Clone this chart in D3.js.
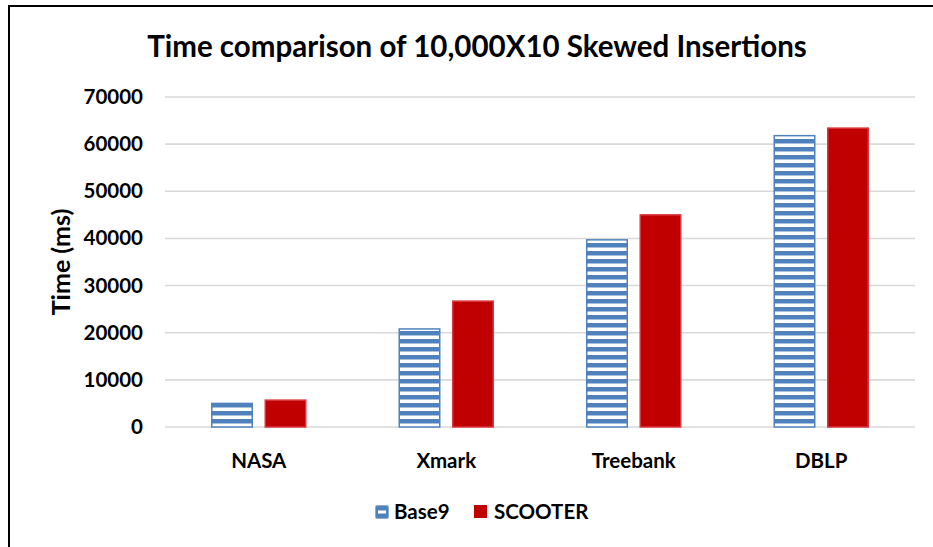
<!DOCTYPE html>
<html><head><meta charset="utf-8">
<script src="https://cdn.jsdelivr.net/npm/d3@7"></script>
<style>body{margin:0;background:#fff;} svg{display:block;font-family:Lato, "Open Sans", sans-serif;}</style>
</head><body>
<script>
const categories = ["NASA", "Xmark", "Treebank", "DBLP"];
const seriesNames = ["Base9", "SCOOTER"];
const base9 = [5000, 20800, 39700, 61800];
const scooter = [5700, 26700, 45000, 63400];
const yTicks = [0, 10000, 20000, 30000, 40000, 50000, 60000, 70000];
const colors = {Base9: "#4f81bd", SCOOTER: "#c00000"};

const W = 933, H = 547;
const svg = d3.select("body").append("svg").attr("width", W).attr("height", H);

const defs = svg.append("defs");
const pat = defs.append("pattern").attr("id", "stripes").attr("patternUnits", "userSpaceOnUse")
  .attr("width", 10).attr("height", 8).attr("y", 427);
pat.append("rect").attr("width", 10).attr("height", 8).attr("fill", "#fff");
pat.append("rect").attr("y", 0).attr("width", 10).attr("height", 4.5).attr("fill", colors.Base9);

// outer border
svg.append("path").attr("d", `M9,${H} L9,6 L${W},6`).attr("fill", "none").attr("stroke", "#000").attr("stroke-width", 2);

const m = {left: 165, right: 915, top: 97, bottom: 427};
const x = d3.scaleBand().domain(categories).range([m.left, m.right]);
const xs = d3.scaleBand().domain(seriesNames).range([0, x.bandwidth()]).paddingInner(0.215).paddingOuter(0.86);
const y = d3.scaleLinear().domain([0, 70000]).range([m.bottom, m.top]);

// grid
svg.append("g").selectAll("line").data(yTicks).join("line")
  .attr("x1", m.left).attr("x2", m.right)
  .attr("y1", d => y(d)).attr("y2", d => y(d))
  .attr("stroke", "#d9d9d9").attr("stroke-width", 1.6);

const yAxis = d3.axisLeft(y).tickValues(yTicks).tickSize(0).tickPadding(0).tickFormat(d3.format("d"));
const gy = svg.append("g").attr("transform", `translate(143,0)`).call(yAxis);
gy.select(".domain").remove();
gy.selectAll("text").attr("font-size", 20.5).attr("font-weight", "bold").attr("fill", "#000")
  .attr("font-family", "Lato, sans-serif");

const data = categories.map((c, i) => ({cat: c, vals: [{s: "Base9", v: base9[i]}, {s: "SCOOTER", v: scooter[i]}]}));
const groups = svg.append("g").selectAll("g").data(data).join("g")
  .attr("transform", d => `translate(${x(d.cat)},0)`);
groups.selectAll("rect").data(d => d.vals).join("rect")
  .attr("x", d => xs(d.s) + 0.75).attr("width", xs.bandwidth() - 1.5)
  .attr("y", d => y(d.v)).attr("height", d => y(0) - y(d.v))
  .attr("fill", d => d.s === "Base9" ? "url(#stripes)" : colors.SCOOTER)
  .attr("stroke", d => d.s === "Base9" ? colors.Base9 : "#d9363e")
  .attr("stroke-width", 1.5);

const xAxis = d3.axisBottom(x).tickSize(0).tickPadding(0);
const gx = svg.append("g").attr("transform", `translate(0,468)`).call(xAxis);
gx.select(".domain").remove();
gx.selectAll("text").attr("font-size", 20.5).attr("font-weight", "bold").attr("fill", "#000")
  .attr("font-family", "Lato, sans-serif").attr("dy", 0);

// title
svg.append("text").attr("x", 477).attr("y", 57).attr("text-anchor", "middle")
  .attr("font-size", 29.5).attr("font-weight", "bold").attr("fill", "#000")
  .text("Time comparison of 10,000X10 Skewed Insertions");

// y axis title
svg.append("text").attr("transform", `translate(70,262) rotate(-90)`).attr("text-anchor", "middle")
  .attr("font-size", 25).attr("font-weight", "bold").attr("fill", "#000").text("Time (ms)");

// legend
const legend = svg.append("g");
const legItems = [{s: "Base9", x: 375, tx: 19}, {s: "SCOOTER", x: 474, tx: 20}];
legItems.forEach(it => {
  const g = legend.append("g").attr("transform", `translate(${it.x},505)`);
  if (it.s === "Base9") {
    g.append("rect").attr("x", 0.5).attr("y", 0.5).attr("width", 13).attr("height", 13)
      .attr("fill", colors.Base9).attr("stroke", "#8eaed6").attr("rx", 1.5);
    g.append("rect").attr("x", 3).attr("y", 5.5).attr("width", 8).attr("height", 3).attr("fill", "#fff");
  } else {
    g.append("rect").attr("width", 13).attr("height", 13).attr("fill", colors.SCOOTER);
  }
  g.append("text").attr("x", it.tx).attr("y", 14).attr("font-size", 20.5)
    .attr("font-weight", "bold").attr("fill", "#000").text(it.s);
});
</script>
</body></html>
